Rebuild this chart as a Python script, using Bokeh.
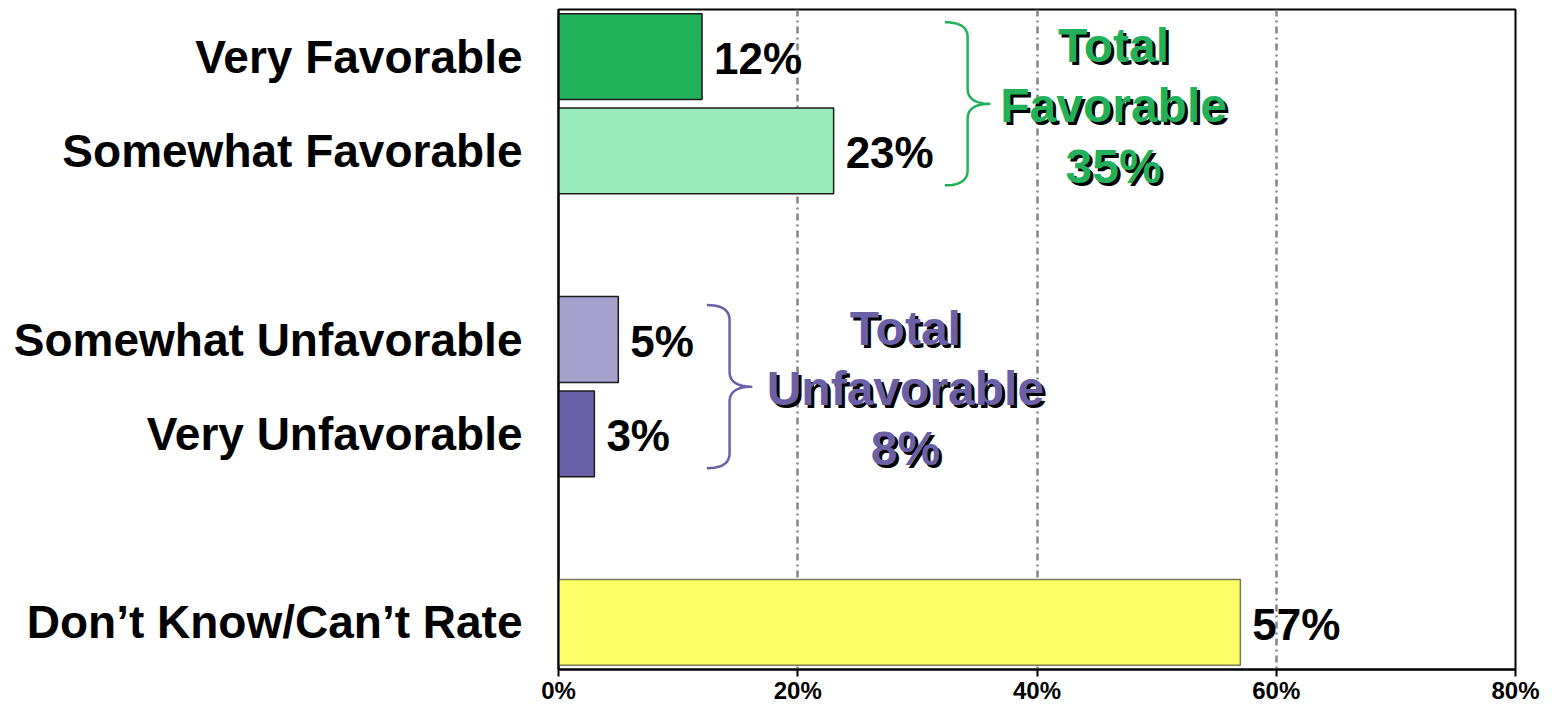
from bokeh.plotting import figure
from bokeh.models import Range1d, FixedTicker
from bokeh.core.properties import value
from bokeh.embed import file_html
from bokeh.resources import INLINE

# ---- data ----
categories = ["Very Favorable", "Somewhat Favorable", "Somewhat Unfavorable",
              "Very Unfavorable", "Don\u2019t Know/Can\u2019t Rate"]
values = [12, 23, 5, 3, 57]
value_labels = ["12%", "23%", "5%", "3%", "57%"]
slots = [0, 1, 3, 4, 6]
bar_colors = ["#21B15A", "#97ECBA", "#A6A0CC", "#6960A8", "#FFFF66"]
bar_lines = ["#1a1a1a", "#1a1a1a", "#1a1a1a", "#1a1a1a", "#7a7a5a"]
x_ticks = [0, 20, 40, 60, 80]
x_tick_labels = ["0%", "20%", "40%", "60%", "80%"]

group_members = [[0, 1], [2, 3]]
group_names = ["Favorable", "Unfavorable"]
group_colors = ["#22B05A", "#6960A8"]
group_text_x = [46.4, 29.0]
group_brace_x = [(32.3, 36.1), (12.4, 16.2)]

FONT = value("Liberation Sans")

p = figure(width=1540, height=706, x_range=Range1d(0, 80), y_range=Range1d(6.5, -0.5),
           output_backend="svg", toolbar_location=None,
           min_border_left=558, min_border_right=25, min_border_top=9, min_border_bottom=34)

p.outline_line_color = "black"
p.outline_line_width = 2
p.background_fill_color = "white"
p.border_fill_color = "white"

# grid
p.ygrid.visible = False
p.xgrid.ticker = FixedTicker(ticks=[20, 40, 60])
p.xgrid.grid_line_color = "#858585"
p.xgrid.grid_line_width = 2.5
p.xgrid.grid_line_dash = "7 4 2 4"

# x axis
xa = p.xaxis[0]
xa.ticker = FixedTicker(ticks=x_ticks)
xa.major_label_overrides = dict(zip(x_ticks, x_tick_labels))
xa.major_tick_out = 7
xa.major_tick_in = 0
xa.minor_tick_line_color = None
xa.axis_line_width = 2
xa.axis_line_color = "black"
xa.major_tick_line_width = 2
xa.major_tick_line_color = "black"
xa.major_label_text_font = "Liberation Sans"
xa.major_label_text_font_style = "bold"
xa.major_label_text_font_size = "24px"
xa.major_label_text_color = "black"
xa.major_label_standoff = 0

# y axis
ya = p.yaxis[0]
ya.ticker = FixedTicker(ticks=slots)
ya.major_label_overrides = dict(zip(slots, categories))
ya.major_tick_out = 0
ya.major_tick_in = 0
ya.minor_tick_line_color = None
ya.axis_line_width = 2
ya.axis_line_color = "black"
ya.major_label_text_font = "Liberation Sans"
ya.major_label_text_font_style = "bold"
ya.major_label_text_font_size = "46px"
ya.major_label_text_color = "black"
ya.major_label_standoff = 36

# bars
p.hbar(y=slots, right=values, left=0, height=0.91, fill_color=bar_colors,
       line_color=bar_lines, line_width=1.5)

# value labels
p.text(x=values, y=slots, text=value_labels, x_offset=12, y_offset=2,
       text_font=FONT, text_font_style="bold", text_font_size="44px",
       text_color="black", text_align="left", text_baseline="middle")

# group annotations
px_per_slot = 663 / 7.0
ry = 15 / px_per_slot


def quad(p0, c, p1, n=12):
    pts = []
    for i in range(n + 1):
        t = i / n
        x = (1 - t) ** 2 * p0[0] + 2 * (1 - t) * t * c[0] + t ** 2 * p1[0]
        y = (1 - t) ** 2 * p0[1] + 2 * (1 - t) * t * c[1] + t ** 2 * p1[1]
        pts.append((x, y))
    return pts


def brace(x0, x1, ytop, ybot):
    xm = (x0 + x1) / 2
    ymid = (ytop + ybot) / 2
    pts = []
    pts += quad((x0, ytop), (xm, ytop), (xm, ytop + ry))
    pts += quad((xm, ymid - ry), (xm, ymid), (x1, ymid))
    pts += quad((x1, ymid), (xm, ymid), (xm, ymid + ry))
    pts += quad((xm, ybot - ry), (xm, ybot), (x0, ybot))
    return [a for a, b in pts], [b for a, b in pts]


for members, name, color, tx, (bx0, bx1) in zip(group_members, group_names, group_colors,
                                                 group_text_x, group_brace_x):
    ys = [slots[m] for m in members]
    total = sum(values[m] for m in members)
    yc = sum(ys) / len(ys)
    bxs, bys = brace(bx0, bx1, yc - 0.865, yc + 0.865)
    p.line(bxs, bys, line_color=color, line_width=2.5)
    lines = ["Total", name, f"{total}%"]
    lys = [yc - 0.64, yc, yc + 0.64]
    p.text(x=[tx] * 3, y=lys, text=lines, x_offset=3, y_offset=5,
           text_font=FONT, text_font_style="bold", text_font_size="48px",
           text_color="black", text_align="center", text_baseline="middle")
    p.text(x=[tx] * 3, y=lys, text=lines, x_offset=0, y_offset=2,
           text_font=FONT, text_font_style="bold", text_font_size="48px",
           text_color=color, text_align="center", text_baseline="middle")

open("out.html", "w").write(file_html(p, INLINE))
